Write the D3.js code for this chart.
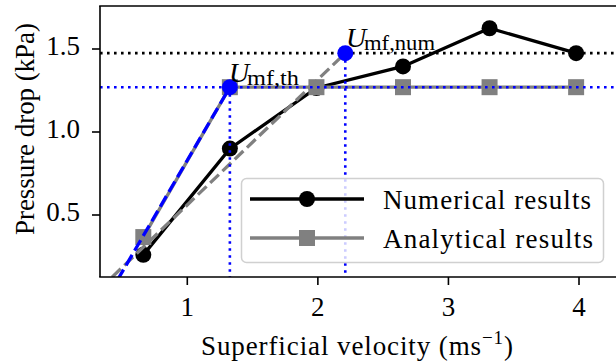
<!DOCTYPE html>
<html>
<head>
<meta charset="utf-8">
<script src="https://cdn.jsdelivr.net/npm/d3@7"></script>
<style>
  body { margin: 0; background: #fff; }
  text { font-family: "Liberation Serif", "Times New Roman", Tinos, "DejaVu Serif", serif; fill: #000; }
</style>
</head>
<body>
<svg id="svg" width="616" height="364"></svg>
<script>
// values
const velocity = [0.663, 1.326, 1.989, 2.652, 3.315, 3.978]
const numerical = [0.26, 0.90, 1.265, 1.395, 1.625, 1.475]
const analytical = [0.367, 1.27, 1.27, 1.27, 1.27, 1.27]

// the two fitted lines (end points)
const numFitX = [0.33, 2.21], numFitY = [0.055, 1.475]
const thFitX = [0.40, 1.326], thFitY = [0.02, 1.27]

// minimum fluidisation points
const umfTh = 1.326, dpTh = 1.27
const umfNum = 2.21, dpNum = 1.475

const xTicks = [1, 2, 3, 4]
const yTicks = [0.5, 1.0, 1.5]
const yTickLabels = ["0.5", "1.0", "1.5"]

var svg = d3.select("svg")
// plot box (named so they do not clash with window.top)
var pLeft = 100, pRight = 630, pTop = 6, pBottom = 277
var fs = 27

var x = d3.scaleLinear().domain([1, 4]).range([187.3, 579])
var y = d3.scaleLinear().domain([0.5, 1.5]).range([215, 49])

svg.append("defs").append("clipPath").attr("id", "clip")
  .append("rect").attr("x", pLeft).attr("y", pTop).attr("width", pRight - pLeft).attr("height", pBottom - pTop)

var g = svg.append("g").attr("clip-path", "url(#clip)")
var line = d3.line().x(d => x(d[0])).y(d => y(d[1]))

// numerical results
g.append("path").attr("d", line(d3.zip(velocity, numerical)))
  .attr("fill", "none").attr("stroke", "#000").attr("stroke-width", 3.3)
g.selectAll(".num").data(d3.zip(velocity, numerical)).enter().append("circle")
  .attr("cx", d => x(d[0])).attr("cy", d => y(d[1])).attr("r", 8).attr("fill", "#000")

// analytical results
g.append("path").attr("d", line(d3.zip(velocity, analytical)))
  .attr("fill", "none").attr("stroke", "#808080").attr("stroke-width", 3.3)
g.selectAll(".ana").data(d3.zip(velocity, analytical)).enter().append("rect")
  .attr("x", d => x(d[0]) - 8).attr("y", d => y(d[1]) - 8).attr("width", 16).attr("height", 16).attr("fill", "#808080")

// fits
g.append("path").attr("d", line(d3.zip(numFitX, numFitY)))
  .attr("fill", "none").attr("stroke", "#808080").attr("stroke-width", 3.3).attr("stroke-dasharray", "12,5")
g.append("path").attr("d", line(d3.zip(thFitX, thFitY)))
  .attr("fill", "none").attr("stroke", "#0000ff").attr("stroke-width", 3.3).attr("stroke-dasharray", "12,5")

// guide lines
function dotted(x1, y1, x2, y2, col) {
  g.append("line").attr("x1", x1).attr("y1", y1).attr("x2", x2).attr("y2", y2)
    .attr("stroke", col).attr("stroke-width", 2.6).attr("stroke-dasharray", "2.6,4.4")
}
dotted(pLeft, y(dpNum), pRight, y(dpNum), "#000")
dotted(pLeft, y(dpTh), pRight, y(dpTh), "#0000ff")
dotted(x(umfTh), y(dpTh), x(umfTh), pBottom, "#0000ff")
dotted(x(umfNum), y(dpNum), x(umfNum), pBottom, "#0000ff")

g.append("circle").attr("cx", x(umfTh)).attr("cy", y(dpTh)).attr("r", 8).attr("fill", "#0000ff")
g.append("circle").attr("cx", x(umfNum)).attr("cy", y(dpNum)).attr("r", 8).attr("fill", "#0000ff")

// labels for the points
function umfLabel(px, py, sub, subLen) {
  svg.append("text").attr("x", px).attr("y", py).attr("font-size", 28).attr("font-style", "italic").text("U")
  svg.append("text").attr("x", px + 18).attr("y", py + 3).attr("font-size", 20)
    .attr("textLength", subLen).attr("lengthAdjust", "spacingAndGlyphs").text(sub)
}
umfLabel(229, 82, "mf,th", 52)
umfLabel(346, 47, "mf,num", 71)

// axes
function axLine(x1, y1, x2, y2) {
  svg.append("line").attr("x1", x1).attr("y1", y1).attr("x2", x2).attr("y2", y2)
    .attr("stroke", "#000").attr("stroke-width", 1.6)
}
axLine(pLeft - 0.8, pTop, pRight, pTop)
axLine(pLeft, pTop, pLeft, pBottom)
axLine(pLeft - 0.8, pBottom, pRight, pBottom)

xTicks.forEach(v => {
  axLine(x(v), pBottom, x(v), pBottom + 8)
  svg.append("text").attr("x", x(v)).attr("y", 316).attr("text-anchor", "middle").attr("font-size", fs).text(v)
})
yTicks.forEach((v, i) => {
  axLine(pLeft - 8, y(v), pLeft, y(v))
  svg.append("text").attr("x", 80).attr("y", y(v) + 6).attr("text-anchor", "end").attr("font-size", fs).text(yTickLabels[i])
})

var xl = svg.append("text").attr("x", 201).attr("y", 355).attr("font-size", fs)
  .attr("textLength", 312).attr("lengthAdjust", "spacing")
xl.append("tspan").text("Superficial velocity (ms")
xl.append("tspan").attr("font-size", 19).attr("dy", -11).text("\u22121")
xl.append("tspan").attr("dy", 11).text(")")

svg.append("text").attr("transform", "translate(34,235) rotate(-90)")
  .attr("font-size", fs).attr("textLength", 212).attr("lengthAdjust", "spacing").text("Pressure drop (kPa)")

// legend
var lg = svg.append("g")
lg.append("rect").attr("x", 241.5).attr("y", 178.5).attr("width", 362).attr("height", 84).attr("rx", 5)
  .attr("fill", "#fff").attr("fill-opacity", 0.8).attr("stroke", "#d0d0d0").attr("stroke-width", 1.5)
var entries = [
  { name: "Numerical results", col: "#000", shape: "circle", yy: 199, len: 208 },
  { name: "Analytical results", col: "#808080", shape: "square", yy: 238, len: 210 }
]
entries.forEach(e => {
  lg.append("line").attr("x1", 250).attr("x2", 364).attr("y1", e.yy).attr("y2", e.yy).attr("stroke", e.col).attr("stroke-width", 3.3)
  if (e.shape === "circle") lg.append("circle").attr("cx", 307).attr("cy", e.yy).attr("r", 8).attr("fill", e.col)
  else lg.append("rect").attr("x", 299).attr("y", e.yy - 8).attr("width", 16).attr("height", 16).attr("fill", e.col)
  lg.append("text").attr("x", 383).attr("y", e.yy + 10).attr("font-size", fs)
    .attr("textLength", e.len).attr("lengthAdjust", "spacing").text(e.name)
})
</script>
</body>
</html>
